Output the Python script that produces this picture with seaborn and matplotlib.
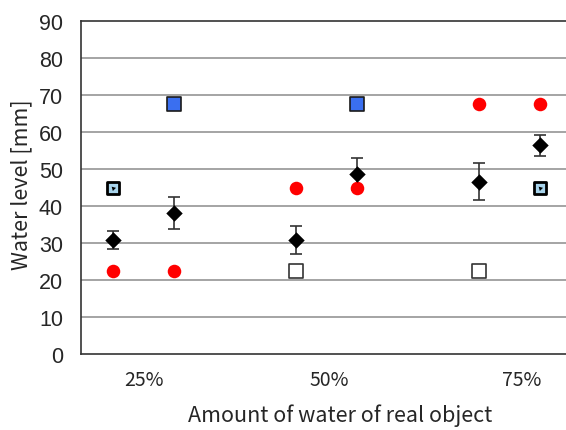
import matplotlib
matplotlib.use("Agg")
import matplotlib.pyplot as plt
import seaborn as sns
import pandas as pd

sns.set_style("white")
plt.rcParams['font.family'] = ['Noto Sans CJK JP', 'DejaVu Sans']

x_pos = [1, 2, 4, 5, 7, 8]
mean_vals = [30.8, 38.1, 30.8, 48.6, 46.6, 56.4]
err_vals = [2.5, 4.3, 3.8, 4.3, 5.1, 2.8]
red_vals = [22.5, 22.5, 45, 45, 67.5, 67.5]
blue_x = [2, 5]
blue_vals = [67.5, 67.5]
white_x = [4, 7]
white_vals = [22.5, 22.5]
dark_x = [1, 8]
dark_vals = [45, 45]
tick_pos = [1.5, 4.55, 7.7]
tick_labels = ["25%", "50%", "75%"]
y_ticks = list(range(0, 100, 10))

fig = plt.figure(figsize=(5.66, 4.31), dpi=100)
ax = fig.add_axes([81/566, 76/431, 485/566, 333/431])

ax.set_axisbelow(True)
for yv in y_ticks[1:-1]:
    ax.axhline(yv, color="#959595", lw=1.2, zorder=0)

ax.errorbar(x_pos, mean_vals, yerr=err_vals, fmt="none", ecolor="#333333",
            elinewidth=1.2, capsize=4, capthick=1.2, zorder=2)

sns.scatterplot(x=x_pos, y=red_vals, ax=ax, color="#ff0000", s=95, marker="o",
                edgecolor="#ff0000", linewidth=0, zorder=3)
sns.scatterplot(x=blue_x, y=blue_vals, ax=ax, color="#3a6ff0", s=110, marker="s",
                edgecolor="#1a1a1a", linewidth=1.2, zorder=3)
sns.scatterplot(x=white_x, y=white_vals, ax=ax, color="white", s=95, marker="s",
                edgecolor="#333333", linewidth=1.2, zorder=3)
sns.scatterplot(x=dark_x, y=dark_vals, ax=ax, color="#a8d4ec", s=80, marker="s",
                edgecolor="#000000", linewidth=2.0, zorder=3)
sns.scatterplot(x=dark_x, y=dark_vals, ax=ax, color="#000000", s=14, marker=(3, 0, 45),
                linewidth=0, zorder=4)
sns.scatterplot(x=x_pos, y=mean_vals, ax=ax, color="black", s=70, marker="D",
                linewidth=0, zorder=5)

ax.set_xlim(0.475, 8.43)
ax.set_ylim(0, 90)
ax.set_yticks(y_ticks)
ax.set_yticklabels([str(v) for v in y_ticks], fontsize=15.5, family=['Liberation Sans', 'DejaVu Sans'])
ax.set_xticks(tick_pos)
ax.set_xticklabels(tick_labels, fontsize=14)
ax.tick_params(axis="both", length=0)
ax.tick_params(axis="x", pad=11)
ax.tick_params(axis="y", pad=13)
ax.set_xlabel("Amount of water of real object", fontsize=15.5)
ax.xaxis.set_label_coords(0.534, -0.147)
ax.set_ylabel("Water level [mm]", fontsize=15.5)
ax.yaxis.set_label_coords(-0.101, 0.512)
for s in ["left", "bottom", "top"]:
    ax.spines[s].set_color("#333333")
    ax.spines[s].set_linewidth(1.2)
ax.spines["right"].set_visible(False)

fig.savefig("out.png", dpi=100)
